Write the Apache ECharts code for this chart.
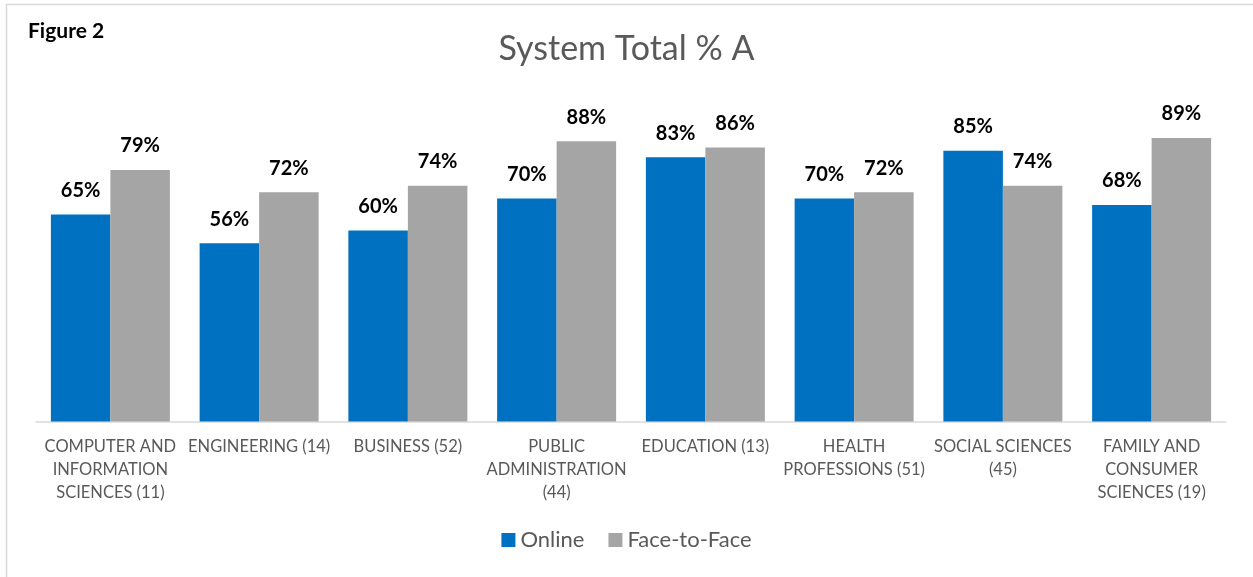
<!DOCTYPE html>
<html>
<head>
<meta charset="utf-8">
<script src="https://cdn.jsdelivr.net/npm/echarts@6/dist/echarts.min.js"></script>
<style>
  html, body { margin: 0; padding: 0; background: #fff; }
  #chart { width: 1253px; height: 577px; }
</style>
</head>
<body>
<div id="chart"></div>
<script>
const categories = [
  'COMPUTER AND\nINFORMATION\nSCIENCES (11)',
  'ENGINEERING (14)',
  'BUSINESS (52)',
  'PUBLIC\nADMINISTRATION\n(44)',
  'EDUCATION (13)',
  'HEALTH\nPROFESSIONS (51)',
  'SOCIAL SCIENCES\n(45)',
  'FAMILY AND\nCONSUMER\nSCIENCES (19)'
];
const online = [0.65, 0.56, 0.60, 0.70, 0.83, 0.70, 0.85, 0.68];
const faceToFace = [0.79, 0.72, 0.74, 0.88, 0.86, 0.72, 0.74, 0.89];

const font = 'Lato, "Open Sans", sans-serif';
const myChart = echarts.init(document.getElementById('chart'));

const pctLabel = {
  show: true,
  position: 'top',
  distance: 14,
  color: '#000',
  fontFamily: font,
  fontWeight: 'bold',
  fontSize: 20,
  formatter: (p) => Math.round(p.value * 100) + '%'
};

const option = {
  backgroundColor: '#fff',
  animation: false,
  title: [
    {
      text: 'System Total % A',
      left: 'center',
      top: 27,
      textStyle: { fontFamily: font, fontSize: 34, fontWeight: 'normal', color: '#595959' }
    },
    {
      text: 'Figure 2',
      left: 23,
      top: 16,
      textStyle: { fontFamily: font, fontSize: 21, fontWeight: 'bold', color: '#000' }
    }
  ],
  graphic: [{
    type: 'rect',
    shape: { x: 6.5, y: 4.5, width: 1300, height: 700 },
    style: { fill: 'none', stroke: '#d9d9d9', lineWidth: 1.5 },
    silent: true
  }],
  legend: {
    bottom: 21,
    left: 'center',
    itemWidth: 14,
    itemHeight: 14,
    itemGap: 24,
    icon: 'rect',
    textStyle: { fontFamily: font, fontSize: 22, color: '#595959' },
    data: ['Online', 'Face-to-Face']
  },
  grid: { left: 36, right: 27, top: 103, bottom: 155.5, containLabel: false },
  xAxis: {
    type: 'category',
    data: categories,
    axisLine: { lineStyle: { color: '#d9d9d9', width: 1.5 } },
    axisTick: { show: false },
    axisLabel: {
      interval: 0,
      margin: 14,
      color: '#595959',
      fontFamily: font,
      fontSize: 16.5,
      lineHeight: 23
    }
  },
  yAxis: {
    type: 'value',
    min: 0,
    max: 1,
    show: false,
    splitLine: { show: false }
  },
  series: [
    {
      name: 'Online',
      type: 'bar',
      data: online,
      barGap: '0%',
      barCategoryGap: '20%',
      itemStyle: { color: '#0070C0' },
      label: pctLabel
    },
    {
      name: 'Face-to-Face',
      type: 'bar',
      data: faceToFace,
      barGap: '0%',
      barCategoryGap: '20%',
      itemStyle: { color: '#A5A5A5' },
      label: pctLabel
    }
  ]
};

myChart.setOption(option);
</script>
</body>
</html>
